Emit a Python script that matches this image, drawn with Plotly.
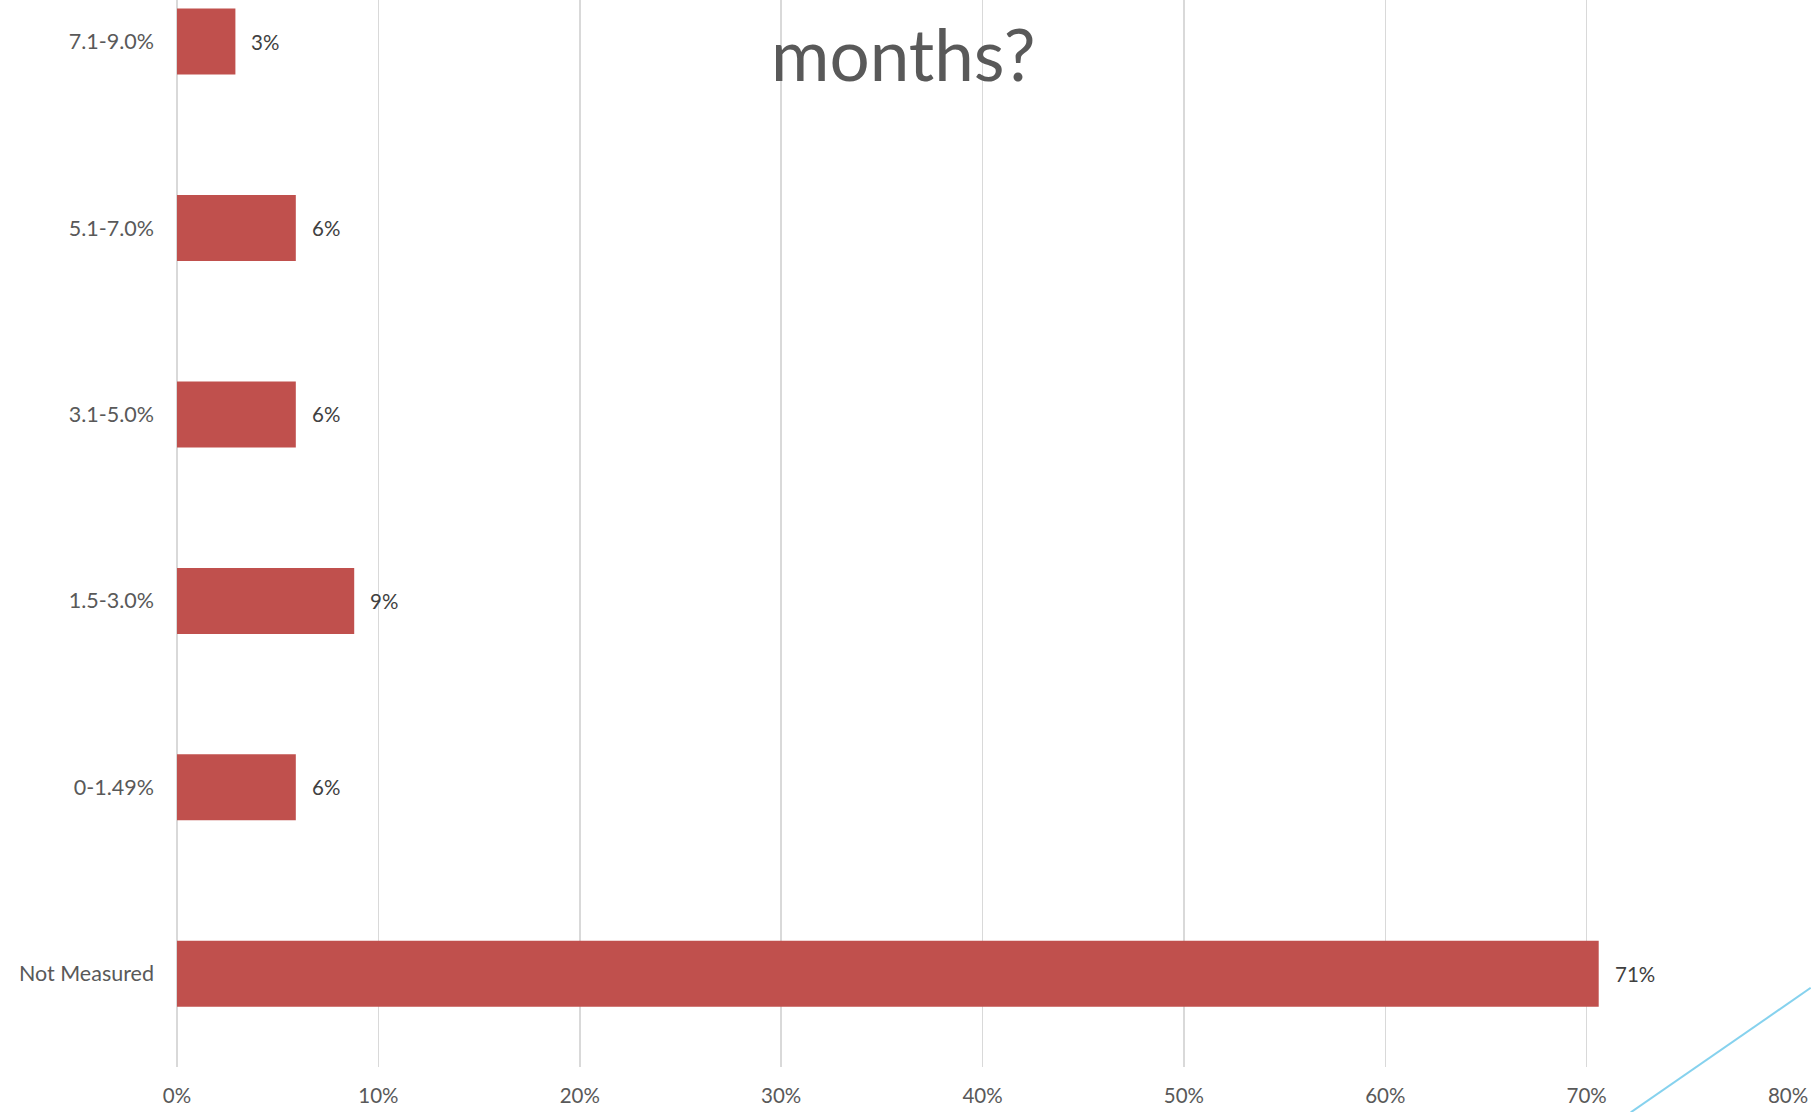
import plotly.graph_objects as go

# Data (bottom to top as displayed)
categories = ["Not Measured", "0-1.49%", "1.5-3.0%", "3.1-5.0%", "5.1-7.0%", "7.1-9.0%"]
values = [0.706, 0.059, 0.088, 0.059, 0.059, 0.029]
x_tick_vals = [0, 0.1, 0.2, 0.3, 0.4, 0.5, 0.6, 0.7, 0.8]
x_tick_text = ["0%", "10%", "20%", "30%", "40%", "50%", "60%", "70%", "80%"]
title_text = "months?"

W, H = 1811, 1112
ML, MR, MT, MB = 177, 23, 0, 45

positions = list(range(len(categories)))

fig = go.Figure()
fig.add_trace(go.Bar(
    x=values,
    y=positions,
    orientation="h",
    width=0.354,
    marker=dict(color="#C0504D", line=dict(width=0)),
    hoverinfo="skip",
))

# data labels
for p, v in zip(positions, values):
    fig.add_annotation(
        x=v, y=p, xref="x", yref="y",
        text=f"{round(v * 100):.0f}%",
        showarrow=False, xanchor="left", yanchor="middle",
        xshift=14,
        font=dict(family="Lato", size=20.5, color="#404040"),
    )

# title (only last line visible in reference)
fig.add_annotation(
    x=0.4507, y=1 - 54 / (H - MT - MB), xref="paper", yref="paper",
    text=title_text, showarrow=False, xanchor="center", yanchor="middle",
    font=dict(family="Lato", size=71, color="#595959"),
)

# decorative light-blue line at bottom right (slide background element)
fig.add_shape(
    type="line", xref="paper", yref="paper",
    x0=0.9024, y0=-0.0425, x1=1.0141, y1=0.0742,
    line=dict(color="#86D2EE", width=2),
    layer="above",
)

fig.update_layout(
    width=W, height=H,
    margin=dict(l=ML, r=MR, t=MT, b=MB, pad=0),
    paper_bgcolor="white",
    plot_bgcolor="white",
    showlegend=False,
    font=dict(family="Lato", color="#595959", size=20),
)

fig.update_xaxes(
    range=[0, 0.8],
    tickvals=x_tick_vals,
    ticktext=x_tick_text,
    showgrid=True,
    gridcolor="#D9D9D9",
    gridwidth=1.5,
    zeroline=True,
    zerolinecolor="#D9D9D9",
    zerolinewidth=1.5,
    showline=False,
    ticks="",
    ticklabelstandoff=14,
    tickfont=dict(family="Lato", size=20.5, color="#595959"),
    automargin=False,
    fixedrange=True,
)

fig.update_yaxes(
    range=[-0.5, 5.223],
    tickvals=positions,
    ticktext=categories,
    showgrid=False,
    zeroline=False,
    showline=False,
    ticks="",
    ticklabelstandoff=22,
    tickfont=dict(family="Lato", size=21.5, color="#595959"),
    automargin=False,
    fixedrange=True,
)

fig.write_html(
    "out.html",
    config={"displayModeBar": False, "staticPlot": True},
    post_script="document.body.style.margin='0';document.body.style.overflow='hidden';",
)
